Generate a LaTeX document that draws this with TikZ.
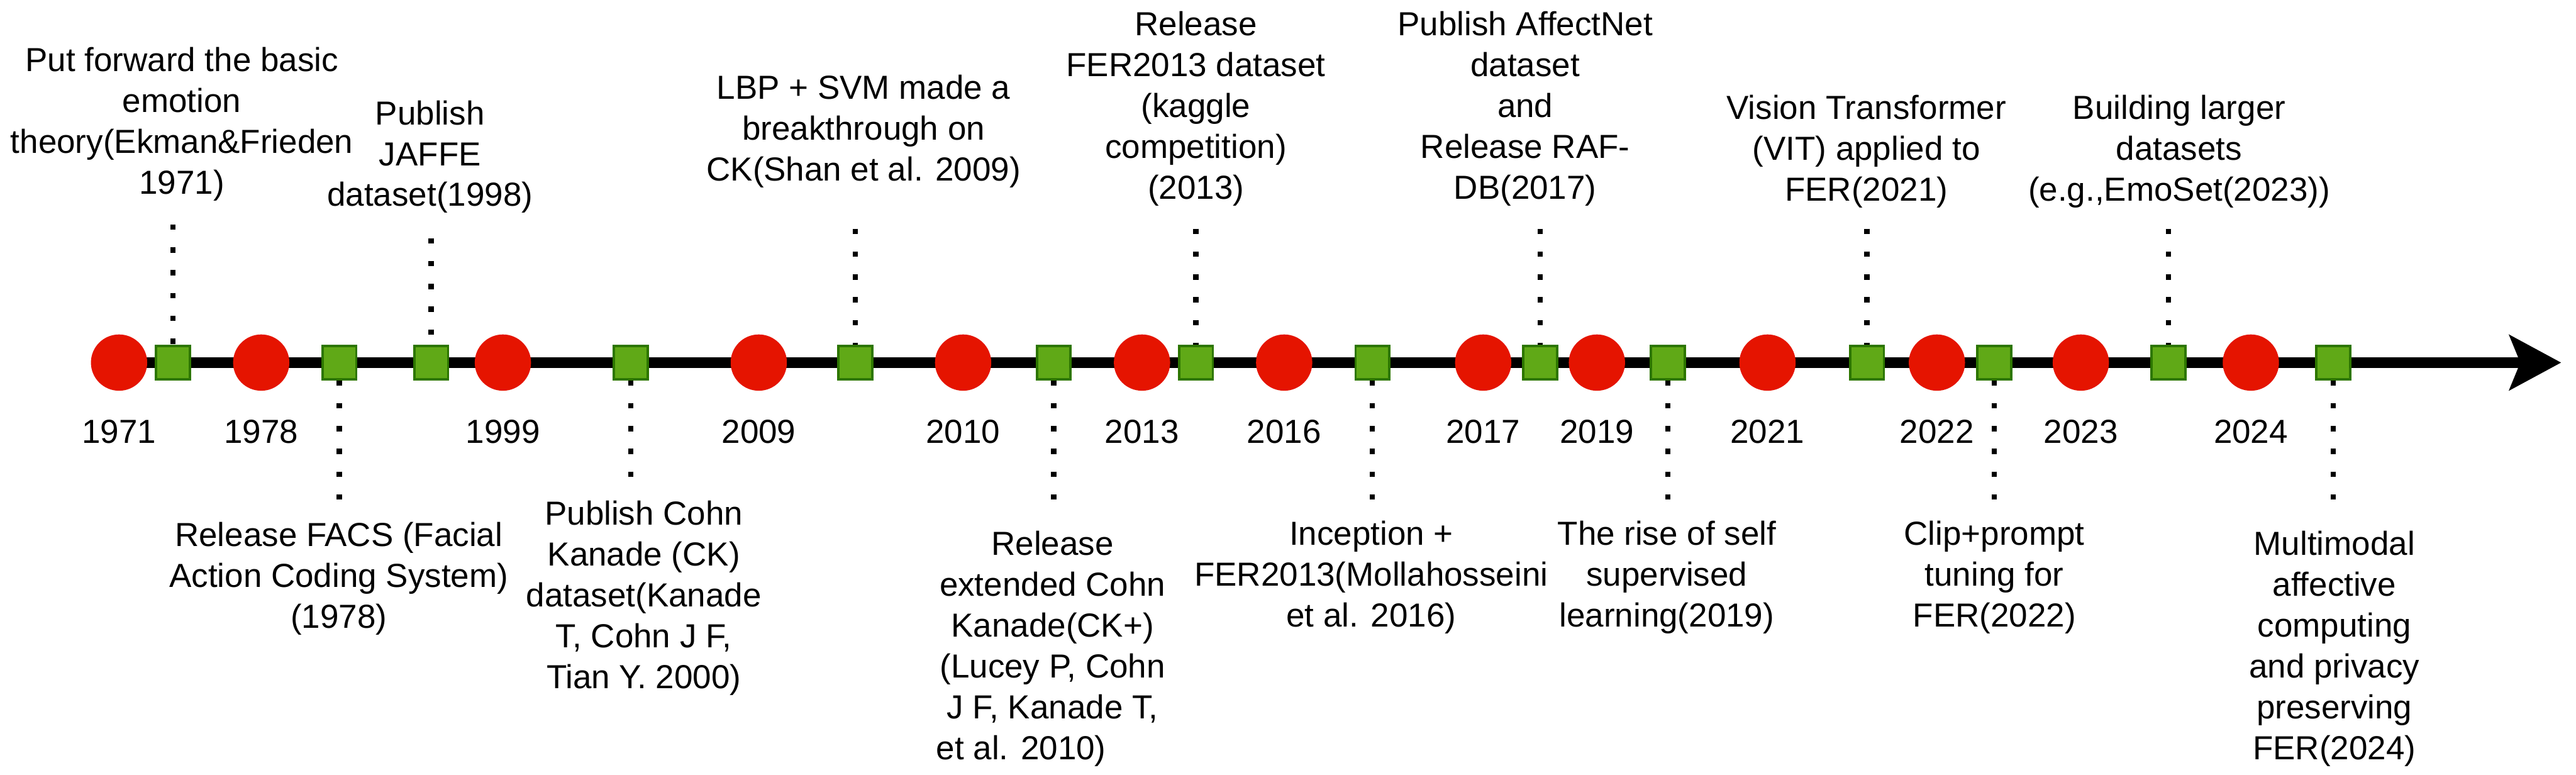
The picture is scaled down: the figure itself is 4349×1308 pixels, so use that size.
\documentclass[tikz,border=0pt]{standalone}
\usepackage{fontspec}
\setmainfont{Liberation Sans}
\usetikzlibrary{arrows.meta,backgrounds}
\definecolor{yearred}{HTML}{E51400}
\definecolor{eventgreen}{HTML}{60A917}
\definecolor{eventline}{HTML}{2D7600}

\begin{document}
\begin{tikzpicture}[x=0.1mm, y=-0.1mm, font=\fontsize{16}{19.6}\selectfont,
	yeardot/.style={circle, fill=yearred, minimum size=9.5mm, inner sep=0pt},
	eventbox/.style={rectangle, fill=eventgreen, draw=eventline, line width=0.4mm, minimum width=5.7mm, minimum height=5.6mm, inner sep=0pt},
	eventtext/.style={align=center, inner sep=0pt, anchor=north},
	dotline/.style={line width=0.9mm, dash pattern=on 0.9mm off 2.95mm}]
	\useasboundingbox (0,0) rectangle (4349,1308);
	\def\ya{612} % truc thoi gian
	% nam
	\foreach \px/\yr in {201/1971, 441/1978, 849/1999, 1281/2009, 1626/2010, 1928/2013, 2168/2016, 2504/2017, 2696/2019, 2984/2021, 3270/2022, 3513/2023, 3800/2024} {
		\node[yeardot] (y\yr) at (\px,\ya) {};
		\node[anchor=base] (n\yr) at (\px,748) {\yr};
	}
	\coordinate (tip) at (4324,\ya);
	% su kien
	\node[eventbox] (basic) at (292,\ya) {};
	\node[eventbox] (facs) at (573,\ya) {};
	\node[eventbox] (jaffe) at (728,\ya) {};
	\node[eventbox] (ck) at (1065,\ya) {};
	\node[eventbox] (lbp) at (1444,\ya) {};
	\node[eventbox] (ckplus) at (1779,\ya) {};
	\node[eventbox] (fer) at (2019,\ya) {};
	\node[eventbox] (incep) at (2317,\ya) {};
	\node[eventbox] (affect) at (2600,\ya) {};
	\node[eventbox] (selfsup) at (2816,\ya) {};
	\node[eventbox] (vit) at (3152,\ya) {};
	\node[eventbox] (clip) at (3367,\ya) {};
	\node[eventbox] (emoset) at (3661,\ya) {};
	\node[eventbox] (multi) at (3939,\ya) {};
	% chu phia tren
	\node[eventtext] (basicT) at (307,79) {Put forward the basic\\emotion\\theory(Ekman\&Frieden\\1971)};
	\node[eventtext] (jaffeT) at (726,169) {Publish\\JAFFE\\dataset(1998)};
	\node[eventtext] (lbpT) at (1458,126) {LBP + SVM made a\\breakthrough on\\CK(Shan et al. 2009)};
	\node[eventtext] (ferT) at (2019,19) {Release\\FER2013 dataset\\(kaggle\\competition)\\(2013)};
	\node[eventtext] (affectT) at (2575,19) {Publish AffectNet\\dataset\\and\\Release RAF-\\DB(2017)};
	\node[eventtext] (vitT) at (3151,160) {Vision Transformer\\(VIT) applied to\\FER(2021)};
	\node[eventtext] (emosetT) at (3679,160) {Building larger\\datasets\\(e.g.,EmoSet(2023))};
	% chu phia duoi
	\node[eventtext] (facsT) at (572,881) {Release FACS (Facial\\Action Coding System)\\(1978)};
	\node[eventtext] (ckT) at (1087,845) {Publish Cohn\\Kanade (CK)\\dataset(Kanade\\T, Cohn J F,\\Tian Y. 2000)};
	\node[eventtext] (ckplusT) at (1777,896) {Release\\extended Cohn\\Kanade(CK+)\\(Lucey P, Cohn\\J F, Kanade T,\\\hspace*{-10.6mm}et al. 2010)};
	\node[eventtext] (incepT) at (2315,879) {Inception +\\FER2013(Mollahosseini\\et al. 2016)};
	\node[eventtext] (selfsupT) at (2814,879) {The rise of self\\supervised\\learning(2019)};
	\node[eventtext] (clipT) at (3367,879) {Clip+prompt\\tuning for\\FER(2022)};
	\node[eventtext] (multiT) at (3941,896) {Multimodal\\affective\\computing\\and privacy\\preserving\\FER(2024)};
	% dau cham
	\coordinate (basicC) at (292,379);
	\coordinate (jaffeC) at (728,402);
	\coordinate (lbpC) at (1444,386);
	\coordinate (ferC) at (2019,386);
	\coordinate (affectC) at (2600,386);
	\coordinate (vitC) at (3152,386);
	\coordinate (emosetC) at (3661,386);
	\coordinate (facsC) at (573,847);
	\coordinate (ckC) at (1065,823);
	\coordinate (ckplusC) at (1779,847);
	\coordinate (incepC) at (2317,847);
	\coordinate (selfsupC) at (2816,847);
	\coordinate (clipC) at (3367,847);
	\coordinate (multiC) at (3939,847);
	\foreach \e in {basic, jaffe, lbp, fer, affect, vit, emoset}
		\draw[dotline] (\e C) -- (\e);
	\foreach \e in {facs, ck, ckplus, incep, selfsup, clip, multi}
		\draw[dotline] (\e) -- (\e C);
	\begin{scope}[on background layer]
		\draw[line width=1.8mm, -{Stealth[length=8.7mm, width=9.2mm, inset=1.8mm]}] (y1971.center) -- (tip);
	\end{scope}
\end{tikzpicture}
\end{document}
